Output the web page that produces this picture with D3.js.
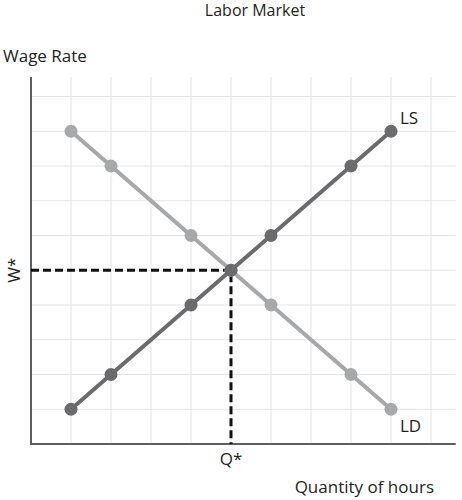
<!DOCTYPE html>
<html>
<head>
<meta charset="utf-8">
<script src="https://cdn.jsdelivr.net/npm/d3@7"></script>
<style>
  body { margin: 0; background: #fff; }
  svg text { font-family: "Open Sans", sans-serif; fill: #231f20; }
</style>
</head>
<body>
<svg width="462" height="500"></svg>
<script>
// data (quantity units, wage units)
const ldQuantity = [1, 2, 4, 5, 6, 8, 9];
const ldWage     = [9, 8, 6, 5, 4, 2, 1];
const lsQuantity = [1, 2, 4, 5, 6, 8, 9];
const lsWage     = [1, 2, 4, 5, 6, 8, 9];
const eqQuantity = 5;
const eqWage = 5;
const gridX = [1, 2, 3, 4, 5, 6, 7, 8, 9, 10];
const gridY = [1, 2, 3, 4, 5, 6, 7, 8, 9, 10];

const svg = d3.select("svg");

const x = d3.scaleLinear().domain([0, 10]).range([31, 431]);
const y = d3.scaleLinear().domain([0, 10]).range([444, 96.5]);
const xMax = 10.62, yMax = 10.56;

/* --------------- grid --------------- */
svg.append("g").selectAll("line")
    .data(gridX)
    .enter().append("line")
    .attr("x1", d => x(d)).attr("x2", d => x(d))
    .attr("y1", y(0)).attr("y2", y(yMax))
    .attr("stroke", "#e4e4e4").attr("stroke-width", 1);

svg.append("g").selectAll("line")
    .data(gridY)
    .enter().append("line")
    .attr("x1", x(0)).attr("x2", x(xMax))
    .attr("y1", d => y(d)).attr("y2", d => y(d))
    .attr("stroke", "#e4e4e4").attr("stroke-width", 1);

/* --------------- axes --------------- */
svg.append("path")
    .attr("d", `M${x(0)},${y(yMax)} L${x(0)},${y(0)} L${x(xMax)},${y(0)}`)
    .attr("fill", "none")
    .attr("stroke", "#5d5e60")
    .attr("stroke-width", 2);

/* --------------- equilibrium dashes --------------- */
svg.append("path")
    .attr("d", `M${x(0)},${y(eqWage)} L${x(eqQuantity)},${y(eqWage)} L${x(eqQuantity)},${y(0)}`)
    .attr("fill", "none")
    .attr("stroke", "#111")
    .attr("stroke-width", 3)
    .attr("stroke-dasharray", "8,4");

/* --------------- curves --------------- */
function drawCurve(qs, ws, color) {
    const pts = qs.map((q, i) => ({ q: q, w: ws[i] }));
    const line = d3.line().x(d => x(d.q)).y(d => y(d.w));
    svg.append("path")
        .datum(pts)
        .attr("d", line)
        .attr("fill", "none")
        .attr("stroke", color)
        .attr("stroke-width", 4);
    svg.append("g").selectAll("circle")
        .data(pts)
        .enter().append("circle")
        .attr("cx", d => x(d.q))
        .attr("cy", d => y(d.w))
        .attr("r", 6.5)
        .attr("fill", color);
}
drawCurve(ldQuantity, ldWage, "#a7a8aa");
drawCurve(lsQuantity, lsWage, "#6b6b6e");

/* --------------- labels --------------- */
svg.append("text").attr("x", 255).attr("y", 16)
    .attr("text-anchor", "middle").style("font-size", "16px")
    .text("Labor Market");

svg.append("text").attr("x", 3).attr("y", 62)
    .style("font-size", "17px")
    .text("Wage Rate");

svg.append("text")
    .attr("transform", `translate(20,${y(eqWage)}) rotate(-90)`)
    .attr("text-anchor", "middle").style("font-size", "17px")
    .text("W*");

svg.append("text").attr("x", x(eqQuantity)).attr("y", 465)
    .attr("text-anchor", "middle").style("font-size", "17px")
    .text("Q*");

svg.append("text").attr("x", 434).attr("y", 493)
    .attr("text-anchor", "end").style("font-size", "17px")
    .text("Quantity of hours");

svg.append("text").attr("x", x(9) + 9).attr("y", 124)
    .style("font-size", "17px")
    .text("LS");

svg.append("text").attr("x", x(9) + 9).attr("y", 432)
    .style("font-size", "17px")
    .text("LD");
</script>
</body>
</html>
